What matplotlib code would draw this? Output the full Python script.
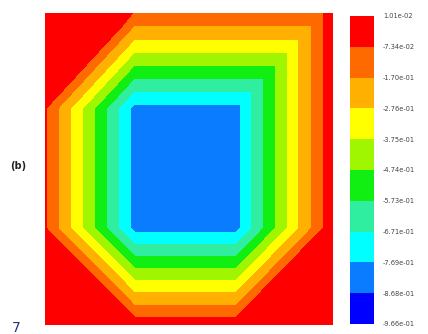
import matplotlib
matplotlib.use('Agg')
import matplotlib.pyplot as plt
import matplotlib.tri as mtri

# contour levels, as printed on the legend (max at top)
level_labels = ["1.01e-02", "-7.34e-02", "-1.70e-01", "-2.76e-01", "-3.75e-01",
                "-4.74e-01", "-5.73e-01", "-6.71e-01", "-7.69e-01", "-8.68e-01",
                "-9.66e-01"]
band_colors = ['#0000ff', '#0a7cff', '#00ffff', '#30eea0', '#11ee11',
               '#a0f500', '#ffff00', '#ffb000', '#ff6a00', '#ff0000']

# mesh nodes (unit square, y up) and nodal values
node_x = [0.0, 0.31, 0.665, 1.0,
          0.0, 0.31, 0.665, 1.0,
          0.0, 0.31, 0.665, 1.0,
          0.0, 0.31, 0.665, 0.965, 1.0]
node_y = [0.0, 0.0, 0.0, 0.0,
          0.31, 0.31, 0.31, 0.31,
          0.695, 0.695, 0.695, 0.695,
          1.0, 1.0, 1.0, 1.0, 1.0]
node_val = [0.01, -0.008, -0.008, 0.01,
            -0.062, -0.80, -0.80, 0.01,
            -0.062, -0.80, -0.80, 0.01,
            0.01, -0.075, -0.075, -0.075, 0.01]
elements = [[1, 5, 4], [0, 1, 4],
            [1, 2, 6], [1, 6, 5],
            [2, 7, 6], [2, 3, 7],
            [4, 5, 9], [4, 9, 8],
            [5, 6, 10], [5, 10, 9],
            [6, 7, 11], [6, 11, 10],
            [8, 9, 13], [8, 13, 12],
            [9, 10, 14], [9, 14, 13],
            [10, 15, 14], [10, 11, 15], [15, 11, 16]]

levels = sorted(float(s) for s in level_labels)
labels_up = sorted(level_labels, key=float)

fig = plt.figure(figsize=(4.28, 3.34), dpi=100)
ax = fig.add_axes([45 / 428, 9 / 334, 288 / 428, 312 / 334])
cax = fig.add_axes([350 / 428, 10 / 334, 24 / 428, 308 / 334])

tri = mtri.Triangulation(node_x, node_y, elements)
cs = ax.tricontourf(tri, node_val, levels=levels, colors=band_colors)
ax.set_xlim(0, 1)
ax.set_ylim(0, 1)
ax.axis('off')

cbar = fig.colorbar(cs, cax=cax, ticks=levels)
cbar.ax.set_yticklabels(labels_up)
cbar.outline.set_visible(False)
cbar.ax.tick_params(length=0, pad=6.5, labelsize=4.8, labelcolor='#444444')

fig.text(18 / 428, 1 - 166 / 334, '(b)', fontsize=7, fontweight='bold',
         color='#222222', ha='center', va='center')
fig.text(12 / 428, 2 / 334, '7', fontsize=10, color='#27347a',
         ha='left', va='baseline')

fig.savefig('out.png', dpi=100)
